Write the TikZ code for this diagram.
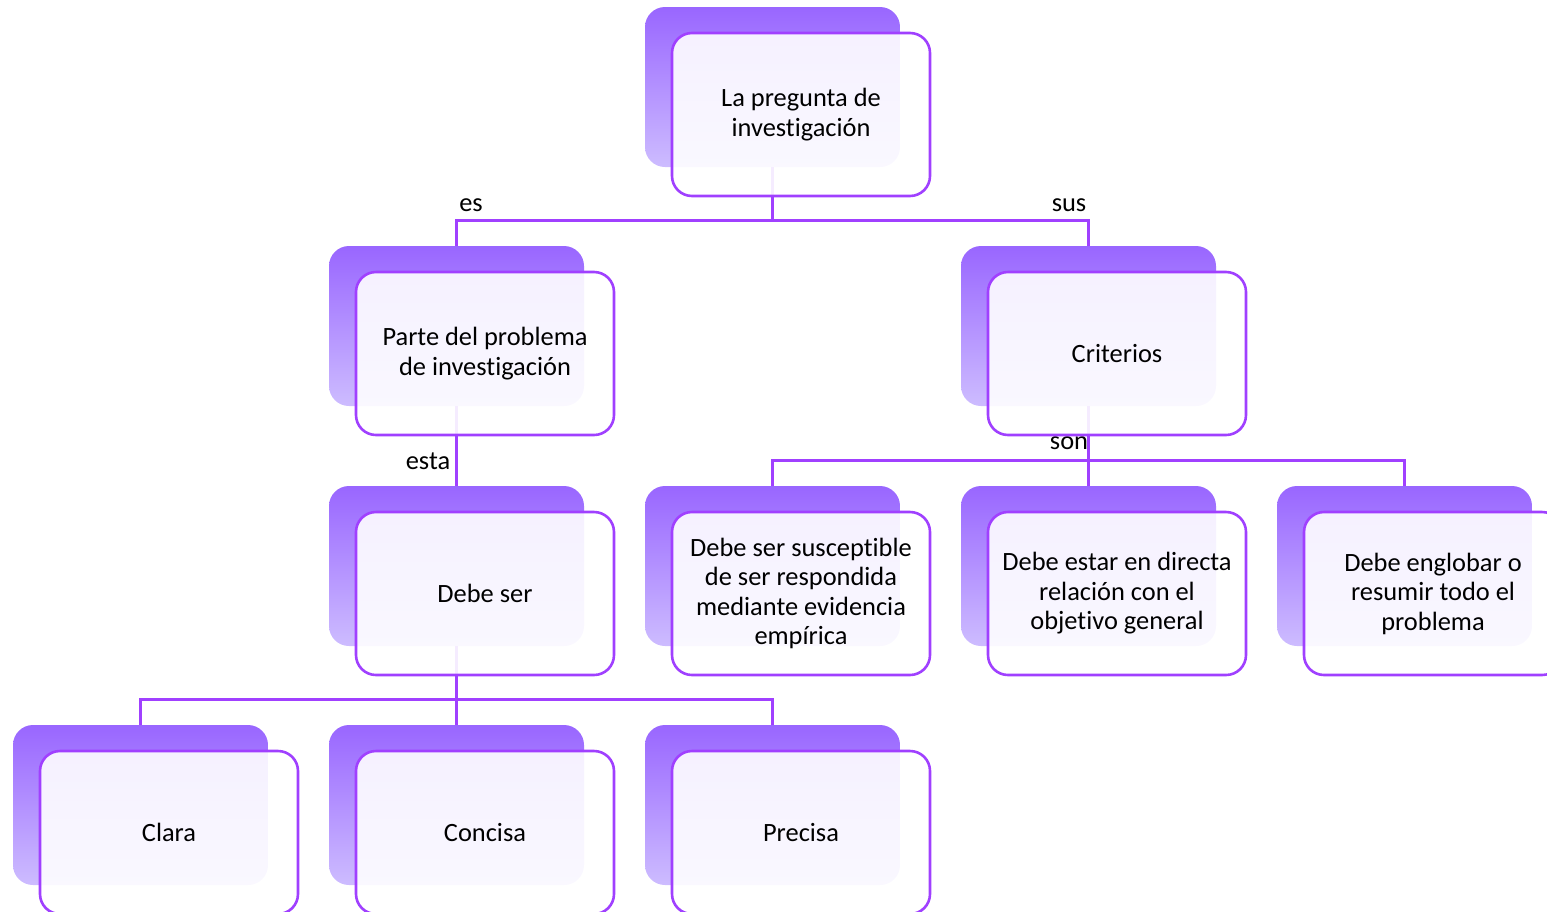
\documentclass[tikz,border=0pt]{standalone}
\usepackage{fontspec}
\setmainfont{Carlito}[Ligatures={NoCommon}]
\definecolor{boxtop}{HTML}{9966FF}
\definecolor{boxbot}{HTML}{CDBCFF}
\definecolor{lineP}{HTML}{A040FF}
\tikzset{
  backbox/.style={rounded corners=20pt, minimum width=255pt, minimum height=160pt,
    top color=boxtop, bottom color=boxbot, draw=none, inner sep=0pt},
  frontbox/.style={rounded corners=20pt, minimum width=258pt, minimum height=163pt,
    draw=lineP, line width=2.6pt, fill=white, fill opacity=0.9, text opacity=1,
    draw opacity=1, align=center, inner sep=0pt, font=\fontsize{26.4}{29.5}\selectfont},
  conn/.style={draw=lineP, line width=2.6pt},
  lbl/.style={anchor=base, inner sep=0pt, font=\fontsize{26.4}{29.5}\selectfont}
}
\begin{document}
\begin{tikzpicture}[x=1pt,y=-1pt]
\useasboundingbox (0,0) rectangle (1547,911);
\clip (0,0) rectangle (1547,911);
% back boxes (centre = left+127.5, top+80)
\node[backbox] (top-b)  at (772.5,87) {};
\node[backbox] (parte-b) at (456.5,326) {};
\node[backbox] (crit-b) at (1088.5,326) {};
\node[backbox] (debe-b) at (456.5,566) {};
\node[backbox] (susc-b) at (772.5,566) {};
\node[backbox] (dir-b)  at (1088.5,566) {};
\node[backbox] (engl-b) at (1404.5,566) {};
\node[backbox] (clara-b) at (140.5,805) {};
\node[backbox] (conc-b) at (456.5,805) {};
\node[backbox] (prec-b) at (772.5,805) {};
% labels
\node[lbl] (l-es)   at (471,211)  {es};
\node[lbl] (l-sus)  at (1069,211) {sus};
\node[lbl] (l-esta) at (428,469)  {esta};
\node[lbl] (l-son)  at (1069,449) {son};
% connectors
\draw[conn] (top-b.south) -- ++(0,53) -| (parte-b.north);
\draw[conn] (top-b.south) -- ++(0,53) -| (crit-b.north);
\draw[conn] (parte-b.south) -- (debe-b.north);
\draw[conn] (crit-b.south) -- ++(0,54) -| (susc-b.north);
\draw[conn] (crit-b.south) -- ++(0,54) -| (engl-b.north);
\draw[conn] (crit-b.south) -- (dir-b.north);
\draw[conn] (debe-b.south) -- ++(0,53) -| (clara-b.north);
\draw[conn] (debe-b.south) -- ++(0,53) -| (prec-b.north);
\draw[conn] (debe-b.south) -- (conc-b.north);
% front boxes (centre = left+156, top+107.5)
\node[frontbox] (top)   at (801,114.5)  {La pregunta de\\investigación};
\node[frontbox] (parte) at (485,353.5)  {Parte del problema\\de investigación};
\node[frontbox] (crit)  at (1117,353.5) {Criterios};
\node[frontbox] (debe)  at (485,593.5)  {Debe ser};
\node[frontbox] (susc)  at (801,593.5)  {Debe ser susceptible\\de ser respondida\\mediante evidencia\\empírica};
\node[frontbox] (dir)   at (1117,593.5) {Debe estar en directa\\relación con el\\objetivo general};
\node[frontbox] (engl)  at (1433,593.5) {Debe englobar o\\resumir todo el\\problema};
\node[frontbox] (clara) at (169,832.5)  {Clara};
\node[frontbox] (conc)  at (485,832.5)  {Concisa};
\node[frontbox] (prec)  at (801,832.5)  {Precisa};
\end{tikzpicture}
\end{document}
